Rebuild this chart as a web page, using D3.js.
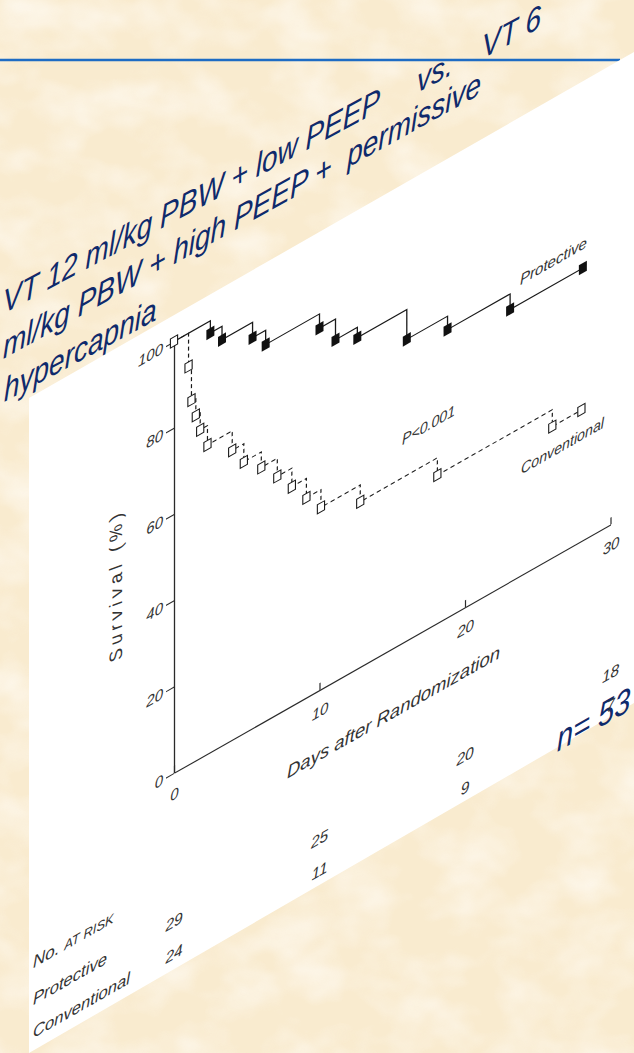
<!DOCTYPE html>
<html><head><meta charset="utf-8">
<script src="https://cdn.jsdelivr.net/npm/d3@7"></script>
<style>html,body{margin:0;padding:0;background:#f9ecd1;} svg{display:block}</style>
</head><body><svg id="c" width="634" height="1053"></svg>
<script>
// ---------- data ----------
const xTicks = [0, 10, 20, 30];
const yTicks = [0, 20, 40, 60, 80, 100];
const protectiveDays = [0, 2.5, 3.3, 5.4, 6.3, 10.0, 11.1, 12.6, 16.0, 18.8, 23.1, 28.1];
const protectiveSurv = [100, 97.2, 94.1, 90.5, 87.2, 83.9, 79.1, 76.7, 69.8, 66.7, 63.1, 63.1];
const conventionalDays = [0, 1.0, 1.2, 1.5, 1.8, 2.3, 4.0, 4.8, 6.0, 7.1, 8.1, 9.1, 10.1, 12.8, 18.1, 26.0, 28.0];
const conventionalSurv = [100, 92.3, 84.1, 80.0, 76.1, 71.6, 67.1, 62.9, 59.3, 55.1, 50.8, 46.3, 42.2, 38.3, 34.3, 30.4, 30.4];
const riskDays = [0, 10, 20, 30];
const protectiveRisk = [29, 25, 20, 18];
const conventionalRisk = [24, 11, 9, 7];
const titleLine1 = ["VT 12 ml/kg PBW + low PEEP", "vs.", "VT 6"];
const titleLine2 = "ml/kg PBW + high PEEP +  permissive";
const titleLine3 = "hypercapnia";
const nLabel = "n= 53";

// ---------- layout ----------
const svg = d3.select("#c");
const defs = svg.append("defs");
const flt = defs.append("filter").attr("id", "tex").attr("x", 0).attr("y", 0).attr("width", "100%").attr("height", "100%");
flt.append("feTurbulence").attr("type", "fractalNoise").attr("baseFrequency", "0.018 0.024").attr("numOctaves", 3).attr("seed", 5).attr("result", "n");
flt.append("feColorMatrix").attr("in", "n").attr("type", "matrix")
  .attr("values", "0 0 0 0 1  0 0 0 0 0.975  0 0 0 0 0.93  1.6 0 0 0 -0.62");

svg.append("rect").attr("width", 634).attr("height", 1053).attr("fill", "#f9ebcf");
svg.append("rect").attr("width", 634).attr("height", 1053).attr("filter", "url(#tex)").attr("opacity", 0.8);

// blue rule
svg.append("line").attr("x1", 0).attr("x2", 620).attr("y1", 60).attr("y2", 60)
  .attr("stroke", "#1e6cc4").attr("stroke-width", 2.6);

// white sheared panel
svg.append("polygon").attr("points", "29,398 634,52 634,703 29,1053").attr("fill", "#ffffff");

// ---------- title (sheared, slightly stretched vertically) ----------
const FONT = "'Liberation Sans', Arial, sans-serif";
const kt = 0.54, sy = 1.18;
const navy = "#0f2a6c";
const titleG = svg.append("g");
const tt = (t, X, Ypix, size, kk) => titleG.append("text")
  .attr("transform", `translate(${X},${Ypix}) matrix(1,${-(kk || kt)},0,${sy},0,0)`)
  .attr("x", 0).attr("y", 0).text(t)
  .attr("font-family", FONT).attr("font-size", size || 28).attr("font-style", "italic").attr("fill", navy)
  .style("white-space", "pre");
tt(titleLine1[0], 3, 314);
tt(titleLine1[1], 417, 93);
tt(titleLine1[2], 482, 59);
tt(titleLine2, 3, 359, 28, 0.555);
tt(titleLine3, 4, 402);
tt(nLabel, 557, 752, 29, 0.57);

// ---------- chart (sheared) ----------
const k = 0.569;
const x = d3.scaleLinear().domain([0, 30]).range([174, 610.5]);
const y = d3.scaleLinear().domain([0, 100]).range([773, 341.5]);
const g = svg.append("g").attr("transform", `matrix(1,${-k},0,1,0,${k * 174})`);
const ink = "#2a2a2a";

const xAxis = g.append("g").attr("transform", `translate(0,${y(0)})`)
  .call(d3.axisBottom(x).tickValues(xTicks).tickSizeInner(-7).tickSizeOuter(0).tickPadding(16));
const yAxis = g.append("g").attr("transform", `translate(${x(0)},0)`)
  .call(d3.axisLeft(y).tickValues(yTicks).tickSize(8).tickSizeOuter(0).tickPadding(3));
[xAxis, yAxis].forEach(a => {
  a.select(".domain").attr("stroke", ink).attr("stroke-width", 1.3);
  a.selectAll(".tick line").attr("stroke", ink).attr("stroke-width", 1.2);
  a.selectAll("text").attr("font-family", FONT).attr("font-size", 15)
    .attr("font-style", "italic").attr("fill", "#333");
});

// curves
const line = d3.line().x(d => x(d[0])).y(d => y(d[1])).curve(d3.curveStepAfter);
const prot = protectiveDays.map((d, i) => [d, protectiveSurv[i]]);
const conv = conventionalDays.map((d, i) => [d, conventionalSurv[i]]);

g.append("path").attr("d", line(prot)).attr("fill", "none").attr("stroke", "#1a1a1a").attr("stroke-width", 1.3);
g.append("path").attr("d", line(conv)).attr("fill", "none").attr("stroke", "#1a1a1a").attr("stroke-width", 1.2)
  .attr("stroke-dasharray", "4,3");

g.selectAll("rect.p").data(prot.slice(1)).join("rect").attr("class", "p")
  .attr("x", d => x(d[0]) - 4).attr("y", d => y(d[1]) - 5).attr("width", 8).attr("height", 10)
  .attr("fill", "#111");
g.selectAll("rect.c").data(conv).join("rect").attr("class", "c")
  .attr("x", d => x(d[0]) - 3.6).attr("y", d => y(d[1]) - 4.5).attr("width", 7.2).attr("height", 9)
  .attr("fill", "#fff").attr("stroke", "#1a1a1a").attr("stroke-width", 1.1);

// in-plot labels
const lab = (t, X, Y, size, len, anchor) => {
  const el = g.append("text").attr("x", X).attr("y", Y).text(t)
    .attr("font-family", FONT).attr("font-size", size).attr("font-style", "italic")
    .attr("fill", "#333").attr("text-anchor", anchor || "start");
  if (len) el.attr("textLength", len).attr("lengthAdjust", "spacingAndGlyphs");
  return el;
};
lab("Protective", 520, 482, 15, 67);
lab("P<0.001", 402, 575, 15, 53);
lab("Conventional", 521, 672, 15, 83);
lab("Days after Randomization", 287, 843, 18, 213);
g.append("text").attr("transform", "translate(122,555) rotate(-90)").attr("text-anchor", "middle")
  .text("Survival (%)").attr("font-family", FONT).attr("font-size", 18).attr("font-style", "italic")
  .attr("fill", "#333").attr("textLength", 147).attr("lengthAdjust", "spacing");

// at-risk table
const hdr = g.append("text").attr("x", 33).attr("y", 888).attr("font-family", FONT).attr("font-style", "italic")
  .attr("fill", "#333").attr("font-size", 17);
hdr.append("tspan").text("No. ");
hdr.append("tspan").attr("font-size", 13).text("AT RISK");
lab("Protective", 33, 925, 16.5, 74);
lab("Conventional", 33, 958, 16.5, 97);
g.selectAll("text.rp").data(riskDays).join("text").attr("class", "rp")
  .attr("x", d => x(d)).attr("y", 927).text((d, i) => protectiveRisk[i])
  .attr("font-family", FONT).attr("font-size", 15.5).attr("font-style", "italic").attr("fill", "#333").attr("text-anchor", "middle");
g.selectAll("text.rc").data(riskDays).join("text").attr("class", "rc")
  .attr("x", d => x(d)).attr("y", 959).text((d, i) => conventionalRisk[i])
  .attr("font-family", FONT).attr("font-size", 15.5).attr("font-style", "italic").attr("fill", "#333").attr("text-anchor", "middle");
</script></body></html>
